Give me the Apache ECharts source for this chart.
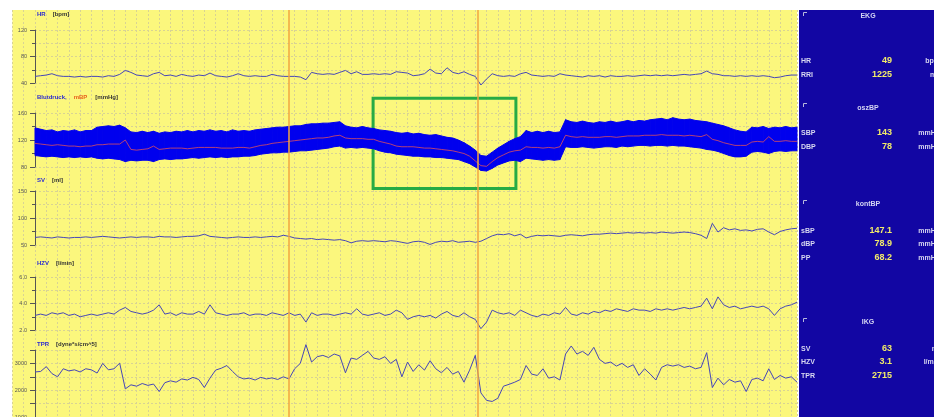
<!DOCTYPE html>
<html><head><meta charset="utf-8">
<script src="https://cdn.jsdelivr.net/npm/echarts/dist/echarts.min.js"></script>
<style>html,body{margin:0;padding:0;background:#fff}#c{width:934px;height:417px}</style>
</head><body><div id="c"></div><script>
// ---- data (sample index 0..135, uniform time) ----
const hr = [50,51,52,54,51,50,50,49,50,49,
 50,50,49,51,50,53,59,56,52,51,
 50,54,56,51,52,50,53,51,50,52,
 51,55,51,50,49,51,54,51,50,51,
 50,50,53,51,50,50,50,49,45,56,
 54,53,54,53,56,59,54,57,53,53,
 54,53,54,53,57,56,55,51,52,54,
 61,55,54,63,56,54,57,53,50,37,
 46,54,51,50,51,50,54,56,52,51,
 50,51,50,54,52,51,50,49,51,50,
 51,49,51,50,50,51,50,51,52,51,
 52,51,52,51,52,53,52,53,54,58,
 54,53,51,51,50,51,50,51,50,51,
 50,48,49,51,52,52];
const sys = [138,136,134,135,132,134,133,135,132,134,
 134,139,140,141,140,142,138,132,131,133,
 131,133,130,132,131,133,132,134,132,134,
 133,135,133,134,132,135,133,134,133,135,
 136,137,138,139,139,140,141,141,143,144,
 144,145,145,146,147,141,139,138,140,138,
 137,135,134,133,131,130,131,129,130,128,
 127,128,126,124,123,120,116,111,105,97,
 96,102,108,113,118,122,125,134,131,133,
 131,133,131,132,150,147,146,148,146,145,
 147,146,148,146,147,149,147,149,148,150,
 151,152,150,153,151,150,151,149,148,147,
 145,143,141,138,135,133,132,139,138,140,
 137,139,138,140,138,139];
const dia = [97,96,95,96,95,94,95,94,95,94,
 95,93,92,93,92,91,88,90,89,90,
 90,88,91,92,91,92,92,93,94,93,
 94,95,94,95,94,95,95,96,96,97,
 99,100,101,101,102,102,103,104,104,105,
 106,107,108,110,111,108,109,108,109,108,
 107,104,102,101,99,98,97,96,96,95,
 95,94,94,93,92,91,88,85,80,75,
 74,78,83,86,89,90,88,93,92,91,
 90,91,90,91,110,109,109,110,109,108,
 109,110,110,109,111,110,111,112,112,111,
 112,112,111,112,111,111,110,109,108,106,
 105,103,100,97,95,95,96,102,103,102,
 100,103,104,103,104,104];
const mbp = [115,114,113,112,113,112,111,111,110,111,
 111,113,113,114,114,114,120,106,105,106,
 107,111,106,107,108,108,108,107,108,109,
 109,109,109,108,108,108,109,109,108,110,
 112,113,115,116,117,118,119,120,121,122,
 123,123,124,126,127,123,122,122,122,121,
 121,118,116,114,111,110,110,110,109,108,
 108,107,106,105,104,102,100,96,89,82,
 81,88,94,98,102,104,105,110,109,109,
 108,109,108,110,127,125,124,125,124,124,
 124,125,125,124,125,126,126,126,127,127,
 127,128,127,127,127,126,127,126,125,128,
 121,119,116,114,112,112,112,117,118,117,
 125,118,118,119,118,118];
const sv = [64,65,64,63,65,64,63,64,64,65,
 64,65,66,65,64,63,64,65,64,65,
 65,64,66,65,65,64,65,66,66,67,
 70,66,65,64,63,64,65,64,64,65,
 64,65,66,65,68,66,63,62,61,62,
 60,61,60,59,60,58,54,57,58,57,
 58,57,56,58,57,55,53,56,57,55,
 51,55,57,56,58,55,56,57,55,57,
 62,67,70,69,71,67,70,63,66,68,
 67,68,67,66,68,69,68,67,69,70,
 70,71,72,71,72,73,72,73,72,73,
 72,74,73,72,73,74,73,71,68,62,
 90,74,82,78,80,77,78,76,79,80,
 74,69,75,78,80,81];
const hzv = [3.1,3.2,3.1,3.3,3.2,3.3,3.1,3.2,3.0,3.1,
 3.2,3.1,3.2,3.3,3.2,3.5,3.7,3.4,3.3,3.2,
 3.3,3.5,3.9,3.2,3.3,3.1,3.3,3.2,3.2,3.4,
 3.2,3.9,3.3,3.2,3.1,3.2,3.2,3.3,3.1,3.2,
 3.2,3.1,3.3,3.2,3.1,3.3,3.1,3.2,2.6,3.3,
 3.1,3.2,3.2,3.1,3.2,3.3,3.2,3.6,3.2,3.1,
 3.2,3.3,3.1,3.2,3.5,3.3,2.8,3.0,3.1,3.0,
 3.1,2.9,3.2,3.4,3.1,3.0,3.3,3.0,2.8,2.1,
 2.6,3.5,3.3,3.2,3.3,3.1,3.5,3.3,3.1,3.0,
 3.2,3.1,3.3,3.2,3.7,3.2,3.1,3.3,3.2,3.4,
 3.3,3.5,3.4,3.6,3.5,3.4,3.6,3.5,3.5,3.4,
 3.6,3.5,3.6,3.5,3.6,3.7,3.6,3.7,3.8,4.4,
 3.6,4.5,3.9,3.7,3.8,3.6,3.7,3.8,3.7,3.8,
 3.6,3.1,3.6,3.8,3.9,4.1];
const tpr = [2680,2700,2880,2620,2500,2800,2720,2760,2680,2800,
 2760,2640,3000,2760,2800,3010,2050,2200,2150,2250,
 2180,2230,1950,2280,2350,2300,2420,2380,2480,2400,
 2100,2450,2750,2820,2920,2700,2500,2420,2450,2380,
 2480,2420,2460,2400,2500,2420,2800,3000,3700,3050,
 3250,3300,3220,3350,3280,2650,3200,3150,3300,3450,
 3200,3150,3250,3000,3150,2500,3050,2700,2950,2750,
 3100,2800,2650,2850,2600,2700,2300,2750,3300,1900,
 1620,1580,1700,2150,2220,2300,2400,2920,2600,2550,
 2800,2450,2500,2380,3350,3650,3350,3450,3300,3600,
 3150,3000,3050,2900,3000,2850,2950,2550,2800,2600,
 2380,2850,2950,2900,2950,2850,2900,2800,2850,3400,
 2100,2450,2200,2400,2300,2350,1950,2400,2450,2350,
 2800,2400,2550,2450,2500,2300];
const hrTicks = [40, 120, 40], bpTicks = [80, 160, 40], svTicks = [50, 150, 50], hzvTicks = [2, 6, 2], tprTicks = [1000, 3500, 500];
const eventTimes = [44.9, 78.4];       // orange event markers (sample index)
const boxTimes = [59.9, 85.2];         // green selection box (sample index)
const boxBP = [48, 182];               // green selection box (mmHg)
const sideHeaders = ['EKG', 'oszBP', 'kontBP', 'IKG'];
const sideLabels = ['HR', 'RRI', 'SBP', 'DBP', 'sBP', 'dBP', 'PP', 'SV', 'HZV', 'TPR'];
const sideValues = ['49', '1225', '143', '78', '147.1', '78.9', '68.2', '63', '3.1', '2715'];
const sideUnits = ['bpm', 'ms', 'mmHg', 'mmHg', 'mmHg', 'mmHg', 'mmHg', 'ml', 'l/min', ''];

// ---- layout ----
const W = 934, L = 35, R = 797, TOP = 10, BOT = 417, N = hr.length;
const ppu = (R - L) / (N - 1);
const YEL = '#fbf77d', GRIDC = '#d8d394', BLUE_T = '#4646b8', PANEL = '#1206a3', BAND = '#0000ee';
const FF = 'Liberation Sans';
const panels = [
  {t: hrTicks, top: 30, h: 53, minor: 2, gap: 16, name: '{b|HR}{u|[bpm]}', fmt: v => String(v)},
  {t: bpTicks, top: 113, h: 54, minor: 2, gap: 15.5, name: '{b|Blutdruck,}{r|mBP}{u|[mmHg]}', fmt: v => String(v)},
  {t: svTicks, top: 191, h: 54, minor: 2, gap: 11, name: '{b|SV}{u|[ml]}', fmt: v => String(v)},
  {t: hzvTicks, top: 277, h: 53, minor: 2, gap: 14, name: '{b|HZV}{u|[l/min]}', fmt: v => v.toFixed(1)},
  {t: tprTicks, top: 350, h: 67, minor: 0, gap: 6, name: '{b|TPR}{u|[dyne*s/cm^5]}', fmt: v => (v % 1000 === 0 ? String(v) : '')}
];
const nameRich = {
  b: {color: '#2b2bd0', fontSize: 6, fontWeight: 'bold', fontFamily: FF, padding: [0, 7, 0, 0]},
  r: {color: '#e8601c', fontSize: 6, fontWeight: 'bold', fontFamily: FF, padding: [0, 8, 0, 0]},
  u: {color: '#333', fontSize: 6, fontWeight: 'bold', fontFamily: FF}
};
const dash = {color: GRIDC, type: [2, 2], width: 1};
const grids = [], xAxes = [], yAxes = [];
panels.forEach((p, k) => {
  grids.push({left: L, right: W - R, top: p.top, height: p.h, show: false, outerBoundsMode: 'none'});
  xAxes.push({gridIndex: k, type: 'value', min: 0, max: N - 1, show: false});
  yAxes.push({
    gridIndex: k, type: 'value', min: p.t[0], max: p.t[1], interval: p.t[2],
    axisLine: {show: true, lineStyle: {color: '#555', width: 1}},
    axisTick: {show: true, length: 5, lineStyle: {color: '#555'}},
    minorTick: {show: p.minor > 0, splitNumber: p.minor || 5, length: 3, lineStyle: {color: '#555'}},
    splitLine: {show: true, lineStyle: dash},
    minorSplitLine: {show: p.minor > 0, lineStyle: dash},
    axisLabel: {fontSize: 5.5, color: '#555', margin: 8, fontFamily: FF, formatter: p.fmt},
    name: p.name, nameLocation: 'end', nameGap: p.gap, nameMoveOverlap: false,
    nameTextStyle: {align: 'left', verticalAlign: 'middle', padding: [0, 0, 0, 2], rich: nameRich}
  });
});
// overlay grid: yellow background, vertical grid, event markers (x in sample index, y in mmHg)
const ov = panels.length;
const bpPx = panels[1].h / (bpTicks[1] - bpTicks[0]);
const ovYMax = bpTicks[1] + (panels[1].top - TOP) / bpPx;
const ovYMin = bpTicks[0] - (BOT - panels[1].top - panels[1].h) / bpPx;
grids.push({left: L - 4 * ppu, right: W - R, top: TOP, bottom: 0, show: true, backgroundColor: YEL, borderWidth: 0, outerBoundsMode: 'none'});
xAxes.push({gridIndex: ov, type: 'value', min: -4, max: N - 1, interval: 2,
  axisLine: {show: false}, axisTick: {show: false}, axisLabel: {show: false}, splitLine: {show: true, lineStyle: dash}});
yAxes.push({gridIndex: ov, type: 'value', min: ovYMin, max: ovYMax, show: false, splitLine: {show: false}});

const pairs = a => a.map((v, i) => [i, v]);
const trace = (k, data, extra) => Object.assign({
  type: 'line', xAxisIndex: k, yAxisIndex: k, data: pairs(data), symbol: 'none', showSymbol: false,
  clip: false, z: 3, silent: true, lineStyle: {color: BLUE_T, width: 1}
}, extra || {});

// continuous blood pressure band: one quad per sample step between diastolic and systolic
const bandData = sys.slice(0, -1).map((v, i) => [i, v, dia[i], sys[i + 1], dia[i + 1]]);
const bandSeries = {
  type: 'custom', xAxisIndex: 1, yAxisIndex: 1, data: bandData, z: 3, silent: true,
  encode: {x: 0, y: [1, 2]},
  renderItem: (params, api) => {
    const i = api.value(0);
    const pts = [api.coord([i, api.value(1)]), api.coord([i + 1, api.value(3)]),
                 api.coord([i + 1, api.value(4)]), api.coord([i, api.value(2)])];
    return {type: 'polygon', shape: {points: pts}, style: {fill: BAND, stroke: BAND, lineWidth: 1}};
  }
};

const series = [
  {type: 'line', xAxisIndex: ov, yAxisIndex: ov, data: [], z: 1, silent: true,
   markLine: {symbol: 'none', silent: true, label: {show: false},
     lineStyle: {color: '#f2a640', width: 1.5, type: 'solid'},
     data: eventTimes.map(t => ({xAxis: t}))}},
  trace(0, hr),
  bandSeries,
  trace(1, mbp, {z: 4, lineStyle: {color: '#e0505a', width: 0.8}}),
  trace(2, sv),
  trace(3, hzv),
  trace(4, tpr),
  {type: 'line', xAxisIndex: ov, yAxisIndex: ov, data: [], z: 10, silent: true,
   markArea: {silent: true, label: {show: false},
     itemStyle: {color: 'rgba(0,0,0,0)', borderColor: '#27ab45', borderWidth: 3},
     data: [[{xAxis: boxTimes[0], yAxis: boxBP[0]}, {xAxis: boxTimes[1], yAxis: boxBP[1]}]]}}
];

// side panel (text read-out)
const headerY = [16, 108, 204, 322];
const rowY = [61, 75, 133, 147, 231, 244, 258, 349, 362, 376];
const cornerY = [12, 103, 200, 318];
const g = [{type: 'rect', shape: {x: 799, y: TOP, width: W - 799, height: BOT - TOP}, style: {fill: PANEL}, z: 0, silent: true}];
sideHeaders.forEach((h, i) => g.push({type: 'text', x: 868, y: headerY[i], z: 1, silent: true,
  style: {text: h, fill: '#d4d4f2', font: 'bold 7px ' + FF, align: 'center', verticalAlign: 'middle'}}));
cornerY.forEach(y => {
  g.push({type: 'polyline', z: 1, silent: true, shape: {points: [[803.5, y + 4], [803.5, y + 0.5], [807, y + 0.5]]}, style: {stroke: '#b8b8dc', lineWidth: 1, fill: null}});
});
sideLabels.forEach((s, i) => {
  g.push({type: 'text', x: 801, y: rowY[i], z: 1, silent: true,
    style: {text: s, fill: '#d8d8f0', font: 'bold 7px ' + FF, align: 'left', verticalAlign: 'middle'}});
  g.push({type: 'text', x: 892, y: rowY[i], z: 1, silent: true,
    style: {text: sideValues[i], fill: '#f2ec6a', font: 'bold 9px ' + FF, align: 'right', verticalAlign: 'middle'}});
  if (sideUnits[i]) g.push({type: 'text', x: 940, y: rowY[i], z: 1, silent: true,
    style: {text: sideUnits[i], fill: '#d8d8f0', font: 'bold 7px ' + FF, align: 'right', verticalAlign: 'middle'}});
});

const chart = echarts.init(document.getElementById('c'), null, {renderer: 'canvas'});
chart.setOption({
  backgroundColor: '#ffffff', animation: false,
  grid: grids, xAxis: xAxes, yAxis: yAxes, series: series, graphic: {elements: g}
});
</script></body></html>
